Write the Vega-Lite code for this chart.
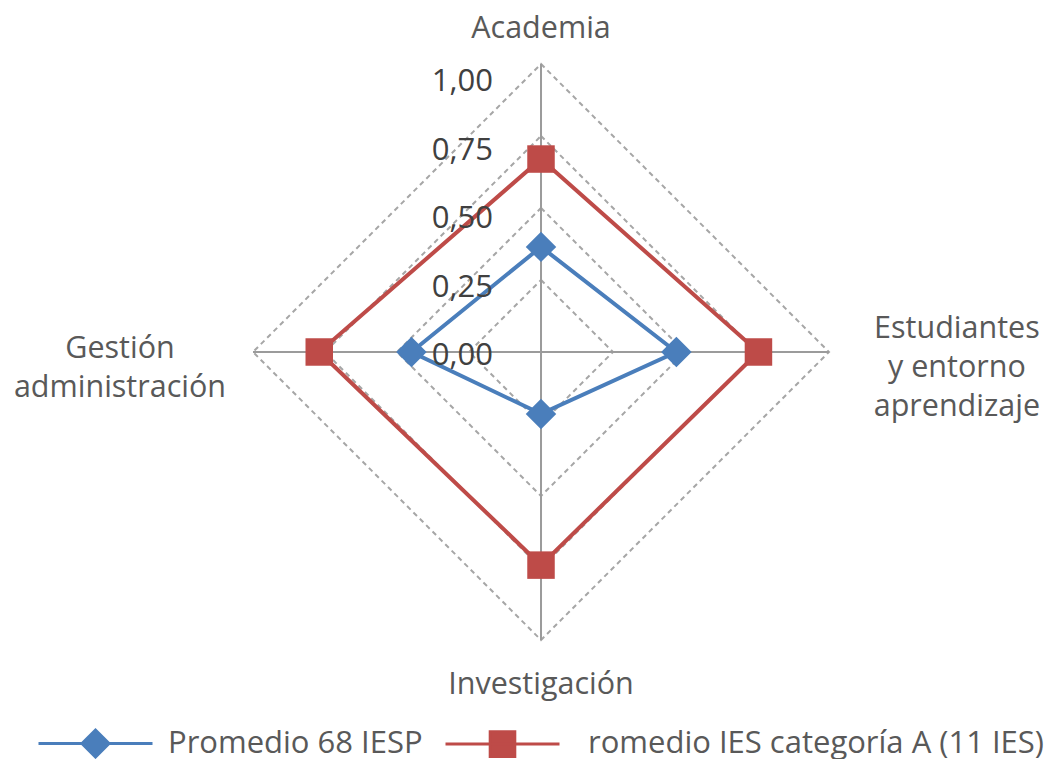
{
  "$schema": "https://vega.github.io/schema/vega-lite/v6.json",
  "width": 1051,
  "height": 759,
  "autosize": "none",
  "padding": 0,
  "background": "white",
  "config": {"view": {"stroke": null}, "font": "Open Sans"},
  "datasets": {
    "scores": [
      {"series": "Promedio 68 IESP", "axis": "Academia", "k": 0, "value": 0.365},
      {"series": "Promedio 68 IESP", "axis": "Estudiantes y entorno aprendizaje", "k": 1, "value": 0.47},
      {"series": "Promedio 68 IESP", "axis": "Investigación", "k": 2, "value": 0.215},
      {"series": "Promedio 68 IESP", "axis": "Gestión administración", "k": 3, "value": 0.45},
      {"series": "romedio IES categoría A (11 IES)", "axis": "Academia", "k": 0, "value": 0.67},
      {"series": "romedio IES categoría A (11 IES)", "axis": "Estudiantes y entorno aprendizaje", "k": 1, "value": 0.755},
      {"series": "romedio IES categoría A (11 IES)", "axis": "Investigación", "k": 2, "value": 0.74},
      {"series": "romedio IES categoría A (11 IES)", "axis": "Gestión administración", "k": 3, "value": 0.77}
    ],
    "grid": [
      {"level": 0.25, "k": [0, 1, 2, 3]},
      {"level": 0.5, "k": [0, 1, 2, 3]},
      {"level": 0.75, "k": [0, 1, 2, 3]},
      {"level": 1.0, "k": [0, 1, 2, 3]}
    ],
    "axes": [
      {"k": 0, "label": "Academia"},
      {"k": 1, "label": "Estudiantes\ny entorno\naprendizaje"},
      {"k": 2, "label": "Investigación"},
      {"k": 3, "label": "Gestión\nadministración"}
    ],
    "ticks": [
      {"level": 0, "text": "0,00"},
      {"level": 0.25, "text": "0,25"},
      {"level": 0.5, "text": "0,50"},
      {"level": 0.75, "text": "0,75"},
      {"level": 1.0, "text": "1,00"}
    ]
  },
  "layer": [
    {
      "data": {"name": "grid"},
      "transform": [
        {"flatten": ["k"]},
        {"calculate": "datum.level*sin(datum.k*PI/2)", "as": "x"},
        {"calculate": "datum.level*cos(datum.k*PI/2)", "as": "y"}
      ],
      "mark": {"type": "line", "interpolate": "linear-closed", "stroke": "#a6a6a6", "strokeWidth": 2, "strokeDash": [5, 4]},
      "encoding": {
        "x": {"field": "x", "type": "quantitative", "scale": {"domain": [-1.8785, 1.7708], "nice": false, "zero": false}, "axis": null},
        "y": {"field": "y", "type": "quantitative", "scale": {"domain": [-1.4132, 1.2222], "nice": false, "zero": false}, "axis": null},
        "detail": {"field": "level", "type": "nominal"},
        "order": {"field": "k", "type": "quantitative"}
      }
    },
    {
      "data": {"name": "axes"},
      "transform": [
        {"calculate": "sin(datum.k*PI/2)", "as": "x"},
        {"calculate": "cos(datum.k*PI/2)", "as": "y"}
      ],
      "mark": {"type": "rule", "stroke": "#9b9b9b", "strokeWidth": 2},
      "encoding": {
        "x": {"field": "x", "type": "quantitative", "scale": {"domain": [-1.8785, 1.7708], "nice": false, "zero": false}, "axis": null},
        "y": {"field": "y", "type": "quantitative", "scale": {"domain": [-1.4132, 1.2222], "nice": false, "zero": false}, "axis": null},
        "x2": {"datum": 0},
        "y2": {"datum": 0}
      }
    },
    {
      "data": {"name": "scores"},
      "transform": [
        {"calculate": "datum.value*sin(datum.k*PI/2)", "as": "x"},
        {"calculate": "datum.value*cos(datum.k*PI/2)", "as": "y"}
      ],
      "mark": {"type": "line", "interpolate": "linear-closed", "strokeWidth": 4},
      "encoding": {
        "x": {"field": "x", "type": "quantitative", "scale": {"domain": [-1.8785, 1.7708], "nice": false, "zero": false}, "axis": null},
        "y": {"field": "y", "type": "quantitative", "scale": {"domain": [-1.4132, 1.2222], "nice": false, "zero": false}, "axis": null},
        "order": {"field": "k", "type": "quantitative"},
        "color": {
          "field": "series",
          "type": "nominal",
          "scale": {"domain": ["Promedio 68 IESP", "romedio IES categoría A (11 IES)"], "range": ["#4a7ebb", "#be4b48"]},
          "legend": {
            "title": null,
            "orient": "none",
            "legendX": 79,
            "legendY": 727,
            "direction": "horizontal",
            "padding": 0,
            "symbolSize": 900,
            "symbolStrokeWidth": 3,
            "labelFont": "Open Sans",
            "labelFontSize": 31,
            "labelColor": "#595959",
            "labelOffset": 56,
            "columnPadding": 16,
            "labelLimit": 700,
            "encode": {
              "symbols": {
                "update": {
                  "shape": {"signal": "datum.value === 'Promedio 68 IESP' ? 'M-3.8,0L3.8,0M-0.9,0L0,-0.9L0.9,0L0,0.9Z' : 'M-3.8,0L3.8,0M-0.82,-0.82L0.82,-0.82L0.82,0.82L-0.82,0.82Z'"},
                  "fill": {"scale": "color", "field": "value"},
                  "stroke": {"scale": "color", "field": "value"},
                  "strokeWidth": {"value": 3},
                  "opacity": {"value": 1}
                }
              },
              "labels": {
                "update": {
                  "dx": {"signal": "datum.index === 1 ? 13 : 0"}
                }
              }
            }
          }
        }
      }
    },
    {
      "data": {"name": "scores"},
      "transform": [
        {"filter": "datum.series === 'Promedio 68 IESP'"},
        {"calculate": "datum.value*sin(datum.k*PI/2)", "as": "x"},
        {"calculate": "datum.value*cos(datum.k*PI/2)", "as": "y"}
      ],
      "mark": {"type": "point", "filled": true, "opacity": 1, "shape": "diamond", "size": 930},
      "encoding": {
        "x": {"field": "x", "type": "quantitative", "scale": {"domain": [-1.8785, 1.7708], "nice": false, "zero": false}, "axis": null},
        "y": {"field": "y", "type": "quantitative", "scale": {"domain": [-1.4132, 1.2222], "nice": false, "zero": false}, "axis": null},
        "color": {"field": "series", "type": "nominal", "legend": null}
      }
    },
    {
      "data": {"name": "scores"},
      "transform": [
        {"filter": "datum.series !== 'Promedio 68 IESP'"},
        {"calculate": "datum.value*sin(datum.k*PI/2)", "as": "x"},
        {"calculate": "datum.value*cos(datum.k*PI/2)", "as": "y"}
      ],
      "mark": {"type": "point", "filled": true, "opacity": 1, "shape": "square", "size": 756},
      "encoding": {
        "x": {"field": "x", "type": "quantitative", "scale": {"domain": [-1.8785, 1.7708], "nice": false, "zero": false}, "axis": null},
        "y": {"field": "y", "type": "quantitative", "scale": {"domain": [-1.4132, 1.2222], "nice": false, "zero": false}, "axis": null},
        "color": {"field": "series", "type": "nominal", "legend": null}
      }
    },
    {
      "data": {"name": "ticks"},
      "transform": [
        {"calculate": "datum.level*0.95", "as": "ty"}
      ],
      "mark": {"type": "text", "align": "right", "baseline": "middle", "dx": -48, "dy": 4, "fontSize": 31, "font": "Open Sans", "color": "#404040"},
      "encoding": {
        "x": {"datum": 0, "type": "quantitative", "scale": {"domain": [-1.8785, 1.7708], "nice": false, "zero": false}, "axis": null},
        "y": {"field": "ty", "type": "quantitative", "scale": {"domain": [-1.4132, 1.2222], "nice": false, "zero": false}, "axis": null},
        "text": {"field": "text"}
      }
    },
    {
      "data": {"name": "axes"},
      "transform": [
        {"calculate": "datum.k==0 ? 1.12 : datum.k==1 ? 1.444 : datum.k==2 ? 1.156 : 1.462", "as": "lr"},
        {"calculate": "datum.lr*sin(datum.k*PI/2)", "as": "x"},
        {"calculate": "datum.lr*cos(datum.k*PI/2) + (datum.k==1 ? 0.08 : datum.k==3 ? 0.01 : 0)", "as": "y"}
      ],
      "mark": {"type": "text", "align": "center", "baseline": "middle", "lineBreak": "\n", "lineHeight": 39, "fontSize": 30.5, "font": "Open Sans", "color": "#595959"},
      "encoding": {
        "x": {"field": "x", "type": "quantitative", "scale": {"domain": [-1.8785, 1.7708], "nice": false, "zero": false}, "axis": null},
        "y": {"field": "y", "type": "quantitative", "scale": {"domain": [-1.4132, 1.2222], "nice": false, "zero": false}, "axis": null},
        "text": {"field": "label"}
      }
    }
  ]
}
